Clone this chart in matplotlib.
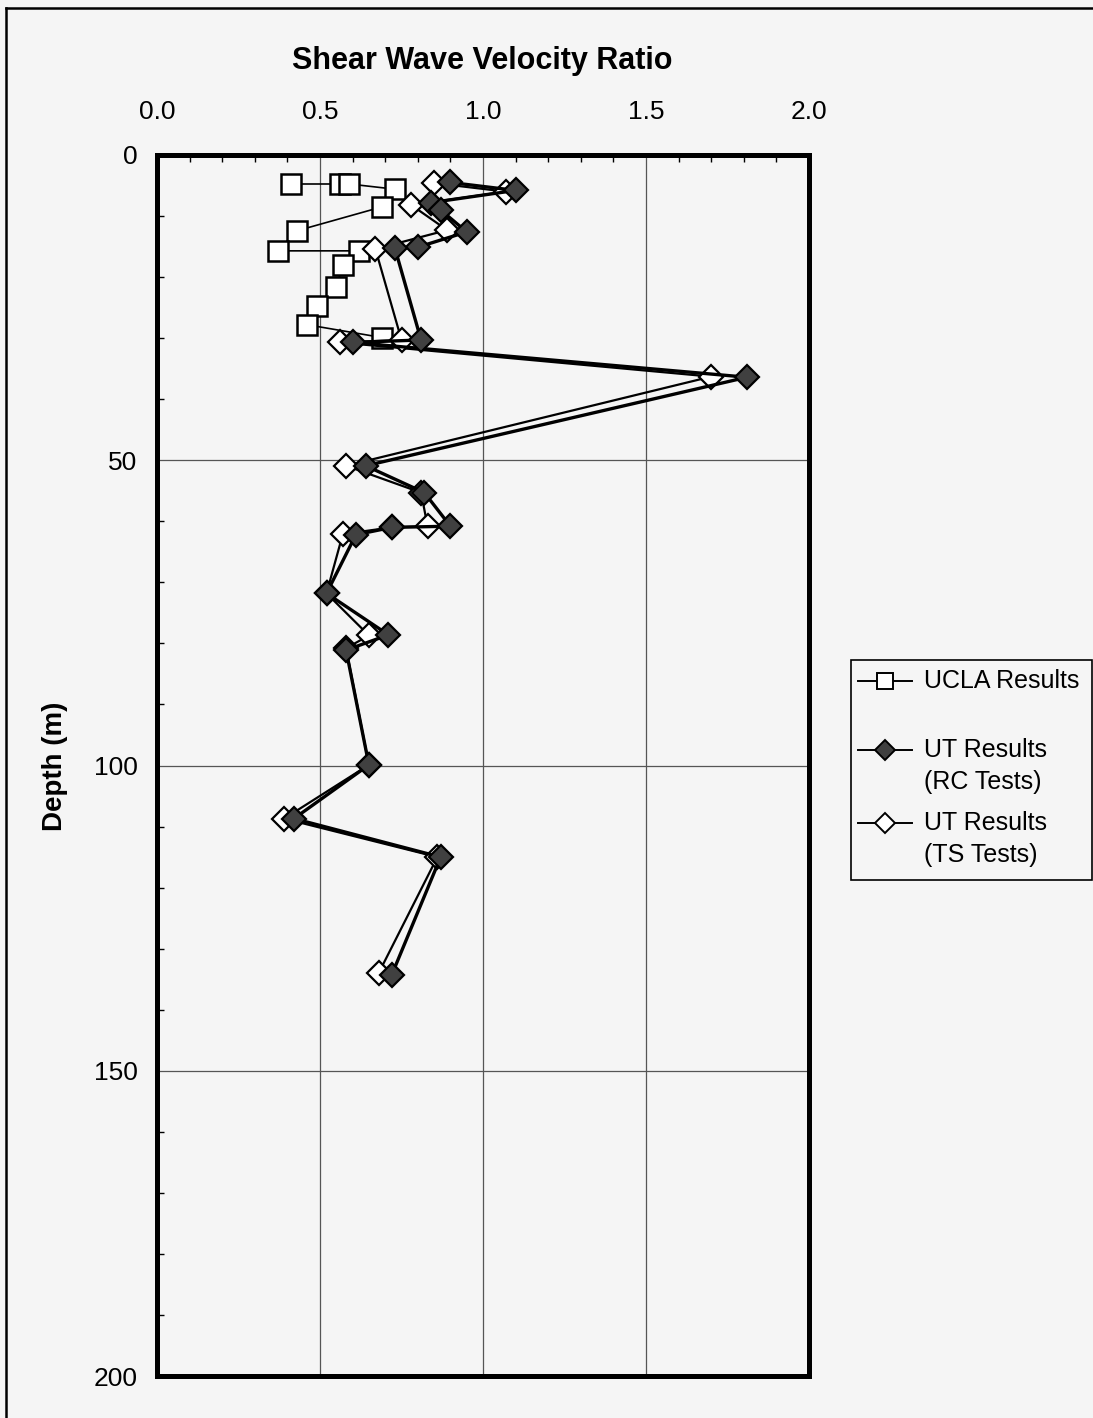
import matplotlib
matplotlib.use("Agg")
import matplotlib.pyplot as plt
from matplotlib.lines import Line2D
from matplotlib.patches import Rectangle
from matplotlib.ticker import MultipleLocator

plt.rcParams['font.family'] = ['Liberation Sans', 'DejaVu Sans']

# ---- data ----
ucla_depth = [4.75, 4.75, 4.75, 5.6, 8.5, 12.4, 15.7, 15.7, 18.0, 21.7, 24.7, 27.8, 29.9]
ucla_ratio = [0.41, 0.56, 0.59, 0.73, 0.69, 0.43, 0.37, 0.62, 0.57, 0.55, 0.49, 0.46, 0.69]

rc_depth = [4.5, 5.8, 7.8, 9.0, 12.6, 15.1, 15.3, 30.3, 30.7, 36.4, 50.9, 55.3,
            60.8, 61.0, 62.2, 71.8, 78.6, 81.1, 99.9, 108.7, 115.0, 134.3]
rc_ratio = [0.90, 1.10, 0.84, 0.87, 0.95, 0.80, 0.73, 0.81, 0.60, 1.81, 0.64, 0.82,
            0.90, 0.72, 0.61, 0.52, 0.71, 0.58, 0.65, 0.42, 0.87, 0.72]

ts_depth = [4.6, 6.0, 8.2, 12.3, 15.4, 30.3, 30.7, 36.3, 50.9, 55.3, 60.8, 61.0,
            62.1, 71.8, 78.7, 80.8, 99.9, 108.7, 115.0, 134.0]
ts_ratio = [0.85, 1.07, 0.78, 0.89, 0.67, 0.75, 0.56, 1.70, 0.58, 0.81, 0.83, 0.72,
            0.57, 0.52, 0.65, 0.58, 0.65, 0.39, 0.86, 0.68]

x_ticks = [0.0, 0.5, 1.0, 1.5, 2.0]
y_ticks = [0, 50, 100, 150, 200]
labels = ["UCLA Results", "UT Results\n(RC Tests)", "UT Results\n(TS Tests)"]

BG = '#f5f5f5'
W, H = 1093, 1418
fig = plt.figure(figsize=(W / 100, H / 100), dpi=100, facecolor=BG)

L, R, T, B = 157, 809, 155, 1376
ax = fig.add_axes([L / W, 1 - B / H, (R - L) / W, (B - T) / H], facecolor=BG)

ax.set_xlim(0, 2.0)
ax.set_ylim(200, 0)
ax.xaxis.tick_top()
ax.set_xticks(x_ticks)
ax.set_xticklabels([f"{v:.1f}" for v in x_ticks])
ax.set_yticks(y_ticks)
ax.xaxis.set_minor_locator(MultipleLocator(0.1))
ax.yaxis.set_minor_locator(MultipleLocator(10))
ax.tick_params(axis='x', which='major', direction='in', length=0, pad=22, labelsize=19,
               top=True, bottom=False)
ax.tick_params(axis='x', which='minor', direction='in', length=5, width=1, top=True, bottom=False)
ax.tick_params(axis='y', which='major', direction='in', length=0, pad=14, labelsize=19)
ax.tick_params(axis='y', which='minor', direction='in', length=5, width=1)
for s in ax.spines.values():
    s.set_linewidth(3.6)
    s.set_color('black')
ax.grid(True, which='major', color='#555555', linewidth=0.9)
ax.set_axisbelow(True)

# UCLA
ax.plot(ucla_ratio, ucla_depth, color='black', lw=1.2, marker='s', ms=14,
        mfc='white', mec='black', mew=1.8, zorder=3)
# TS
ax.plot(ts_ratio, ts_depth, color='black', lw=1.6, marker='D', ms=12,
        mfc='white', mec='black', mew=1.6, zorder=4)
# RC
ax.plot(rc_ratio, rc_depth, color='black', lw=2.4, marker='D', ms=12,
        mfc='#404040', mec='black', mew=1.6, zorder=5)

# Titles
fig.text(482 / W, 1 - 61 / H, "Shear Wave Velocity Ratio", ha='center', va='center',
         fontsize=22, fontweight='bold')
fig.text(55 / W, 1 - 766 / H, "Depth (m)", rotation=90, ha='center', va='center',
         fontsize=20, fontweight='bold')

# Legend (drawn manually in figure pixels)
def fx(px):
    return px / W

def fy(py):
    return 1 - py / H

fig.add_artist(Rectangle((fx(851), fy(880)), fx(1092) - fx(851), fy(660) - fy(880),
                         transform=fig.transFigure, facecolor=BG, edgecolor='black', lw=1.2))
rows = [681, 750, 823]
styles = [dict(marker='s', ms=11, mfc='white', mew=1.4),
          dict(marker='D', ms=10, mfc='#404040', mew=1.4),
          dict(marker='D', ms=10, mfc='white', mew=1.4)]
for y, lab, st in zip(rows, labels, styles):
    fig.add_artist(Line2D([fx(858), fx(912)], [fy(y), fy(y)], transform=fig.transFigure,
                          color='black', lw=1.4))
    fig.add_artist(Line2D([fx(885)], [fy(y)], transform=fig.transFigure, mec='black',
                          linestyle='none', **st))
    fig.text(fx(924), fy(y - 12), lab, ha='left', va='top', fontsize=18, linespacing=1.42)

# Page border (left and top)
fig.add_artist(Line2D([fx(6), fx(6)], [fy(8), 0], transform=fig.transFigure, color='black', lw=1.8))
fig.add_artist(Line2D([fx(6), 1], [fy(8), fy(8)], transform=fig.transFigure, color='black', lw=1.8))

fig.savefig("out.png", dpi=100, facecolor=BG)
